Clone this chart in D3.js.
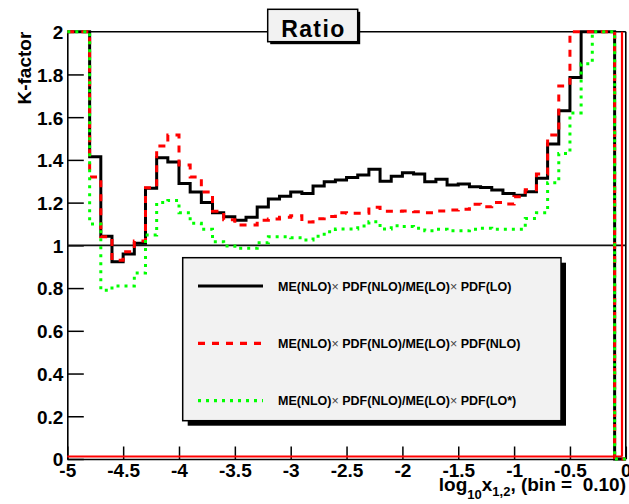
<!DOCTYPE html>
<html><head><meta charset="utf-8">
<script src="https://cdn.jsdelivr.net/npm/d3@7"></script>
<style>
body{margin:0;background:#fff;}
svg{display:block;font-family:"Liberation Sans",Arial,Helvetica,sans-serif;font-weight:bold;}
</style></head><body>
<svg id="c" width="629" height="504"></svg>
<script>
// ---- data ----
const binEdges = [-5.0,-4.9,-4.8,-4.7,-4.6,-4.5,-4.4,-4.3,-4.2,-4.1,-4.0,-3.9,-3.8,-3.7,-3.6,-3.5,-3.4,-3.3,-3.2,-3.1,
  -3.0,-2.9,-2.8,-2.7,-2.6,-2.5,-2.4,-2.3,-2.2,-2.1,-2.0,-1.9,-1.8,-1.7,-1.6,-1.5,-1.4,-1.3,-1.2,-1.1,
  -1.0,-0.9,-0.8,-0.7,-0.6,-0.5,-0.4,-0.3,-0.2,-0.1,0.0];
// ME(NLO)xPDF(NLO)/ME(LO)xPDF(LO)
const kPdfLO = [2.4,2.4,1.415,1.043,0.923,0.96,1.01,1.267,1.41,1.39,1.29,1.25,1.20,1.153,1.134,1.118,1.131,1.18,1.217,1.23,
  1.25,1.243,1.278,1.298,1.306,1.317,1.329,1.356,1.30,1.324,1.34,1.334,1.298,1.309,1.282,1.287,1.274,1.271,1.259,1.243,
  1.235,1.251,1.314,1.474,1.63,1.786,2.4,2.4,2.4,0];
// ME(NLO)xPDF(NLO)/ME(LO)xPDF(NLO)
const kPdfNLO = [2.4,2.4,1.32,1.04,0.93,0.97,1.02,1.27,1.465,1.516,1.376,1.32,1.25,1.16,1.12,1.095,1.095,1.118,1.123,1.131,
  1.139,1.109,1.125,1.135,1.153,1.15,1.15,1.178,1.16,1.16,1.161,1.157,1.153,1.161,1.165,1.169,1.192,1.181,1.201,1.193,
  1.228,1.26,1.334,1.516,1.746,2.4,2.4,2.4,2.4,0];
// ME(NLO)xPDF(NLO)/ME(LO)xPDF(LO*)
const kPdfLOstar = [2.4,2.4,1.10,0.79,0.81,0.81,0.87,1.048,1.2,1.21,1.153,1.103,1.075,1.017,0.997,0.986,0.986,1.012,1.04,1.04,
  1.035,1.025,1.043,1.064,1.076,1.076,1.09,1.11,1.076,1.092,1.088,1.08,1.068,1.075,1.068,1.068,1.075,1.08,1.075,1.075,
  1.075,1.126,1.153,1.293,1.43,1.62,1.85,2.4,2.4,0];
const legendLabels = [
  ["ME(NLO)","×"," PDF(NLO)/ME(LO)","×"," PDF(LO)"],
  ["ME(NLO)","×"," PDF(NLO)/ME(LO)","×"," PDF(NLO)"],
  ["ME(NLO)","×"," PDF(NLO)/ME(LO)","×"," PDF(LO*)"]
];
const xTickValues = [-5,-4.5,-4,-3.5,-3,-2.5,-2,-1.5,-1,-0.5,0];
const xTickLabels = ["-5","-4.5","-4","-3.5","-3","-2.5","-2","-1.5","-1","-0.5","0"];
const yTickValues = [0,0.2,0.4,0.6,0.8,1,1.2,1.4,1.6,1.8,2];
const yTickLabels = ["0","0.2","0.4","0.6","0.8","1","1.2","1.4","1.6","1.8","2"];
const titleText = "Ratio";
const yTitle = "K-factor";

// ---- layout ----
const L = 67.3, R = 625.8, T = 31.7, B = 459;
const svg = d3.select("#c");
const x = d3.scaleLinear().domain([-5,0]).range([L,R]);
const y = d3.scaleLinear().domain([0,2]).range([B,T]).clamp(true);

// frame top/right
svg.append("line").attr("x1",L).attr("x2",R).attr("y1",T).attr("y2",T).attr("stroke","#000").attr("stroke-width",1.6);
svg.append("line").attr("x1",R).attr("x2",R).attr("y1",T).attr("y2",B).attr("stroke","#000").attr("stroke-width",1.6);

// axes
const fmtX = d => xTickLabels[xTickValues.indexOf(d)];
const fmtY = d => yTickLabels[yTickValues.indexOf(d)];
const xMinor = d3.range(0,51).map(i=>-5+i*0.1).filter(v=>Math.abs(v*2-Math.round(v*2))>1e-6);
const yMinor = d3.range(0,41).map(i=>i*0.05).filter(v=>Math.abs(v*5-Math.round(v*5))>1e-6);

const gx = svg.append("g").attr("transform",`translate(0,${B})`);
gx.call(d3.axisBottom(x).tickValues(xMinor).tickSize(-6).tickSizeOuter(0).tickFormat(""));
gx.call(d3.axisBottom(x).tickValues(xTickValues).tickSize(-12.5).tickSizeOuter(0).tickPadding(5).tickFormat(fmtX));
const gy = svg.append("g").attr("transform",`translate(${L},0)`);
gy.call(d3.axisLeft(y).tickValues(yMinor).tickSize(-8).tickSizeOuter(0).tickFormat(""));
gy.call(d3.axisLeft(y).tickValues(yTickValues).tickSize(-16.5).tickSizeOuter(0).tickPadding(4).tickFormat(fmtY));
svg.selectAll(".domain").attr("stroke","#000").attr("stroke-width",1.6);
svg.selectAll(".tick line").attr("stroke","#000").attr("stroke-width",1.5);
svg.selectAll(".tick text").attr("font-size",19).attr("font-family",null).attr("fill","#000").attr("font-weight","bold");
gy.selectAll(".tick text").attr("dy","0.36em");

// unity line
svg.append("line").attr("x1",L).attr("x2",R).attr("y1",y(1)).attr("y2",y(1)).attr("stroke","#111").attr("stroke-width",1.8);

// red outline remnants (bottom and right)
svg.append("line").attr("x1",L).attr("x2",R-3.5).attr("y1",B-2.5).attr("y2",B-2.5).attr("stroke","#f00").attr("stroke-width",2);
svg.append("line").attr("x1",R-3.8).attr("x2",R-3.8).attr("y1",T).attr("y2",B-2.5).attr("stroke","#f00").attr("stroke-width",2.2);

// histograms
function stepPts(vals){
  const pts=[[binEdges[0],vals[0]]];
  vals.forEach((v,i)=>{pts.push([binEdges[i],v]);pts.push([binEdges[i+1],v]);});
  return pts;
}
const line = d3.line().x(d=>x(d[0])).y(d=>y(d[1]));
const series = [
  {vals:kPdfLO, color:"#000", dash:null},
  {vals:kPdfNLO, color:"#ff0000", dash:"7,7"},
  {vals:kPdfLOstar, color:"#00ff00", dash:"3,5"}
];
series.forEach(s=>{
  svg.append("path").attr("d",line(stepPts(s.vals))).attr("fill","none")
    .attr("stroke",s.color).attr("stroke-width",3).attr("stroke-linejoin","miter")
    .attr("stroke-dasharray",s.dash);
});

// legend
const lg = {x:182.7,y:257.7,w:378.3,h:163};
svg.append("rect").attr("x",lg.x+5).attr("y",lg.y+5).attr("width",lg.w).attr("height",lg.h).attr("fill","#000");
svg.append("rect").attr("x",lg.x).attr("y",lg.y).attr("width",lg.w).attr("height",lg.h).attr("fill","#f2f2f2").attr("stroke","#000").attr("stroke-width",1.5);
const rowY = [286,343.3,400.7];
series.forEach((s,i)=>{
  svg.append("line").attr("x1",198).attr("x2",263).attr("y1",rowY[i]).attr("y2",rowY[i])
    .attr("stroke",s.color).attr("stroke-width",3.2).attr("stroke-dasharray",s.dash);
  const t = svg.append("text").attr("x",278).attr("y",rowY[i]+4.6).attr("font-size",12.5).attr("fill","#000");
  legendLabels[i].forEach(p=>{
    const ts=t.append("tspan").text(p);
    if(p==="×") ts.attr("font-weight","normal").attr("fill","#444");
  });
});

// title box
const tb = {x:267.7,y:9.3,w:90,h:32.4};
svg.append("rect").attr("x",tb.x+2.5).attr("y",tb.y+2.5).attr("width",tb.w).attr("height",tb.h).attr("fill","#000");
svg.append("rect").attr("x",tb.x).attr("y",tb.y).attr("width",tb.w).attr("height",tb.h).attr("fill","#f2f2f2").attr("stroke","#000").attr("stroke-width",1.5);
svg.append("text").attr("x",tb.x+tb.w/2+0.7).attr("y",36.6).attr("text-anchor","middle").attr("font-size",23).attr("letter-spacing","1.4px").text(titleText);

// y title
svg.append("text").attr("transform",`translate(31,${T}) rotate(-90)`).attr("text-anchor","end").attr("font-size",19).text(yTitle);

// x title
const xt = svg.append("text").attr("x",626).attr("y",491).attr("text-anchor","end").attr("font-size",19).style("white-space","pre");
xt.append("tspan").text("log");
xt.append("tspan").attr("dy",8).attr("font-size",13).text("10");
xt.append("tspan").attr("dy",-8).text("x");
xt.append("tspan").attr("dy",5).attr("font-size",13).text("1,2");
xt.append("tspan").attr("dy",-5).text(", (bin =  0.10)");
</script></body></html>
